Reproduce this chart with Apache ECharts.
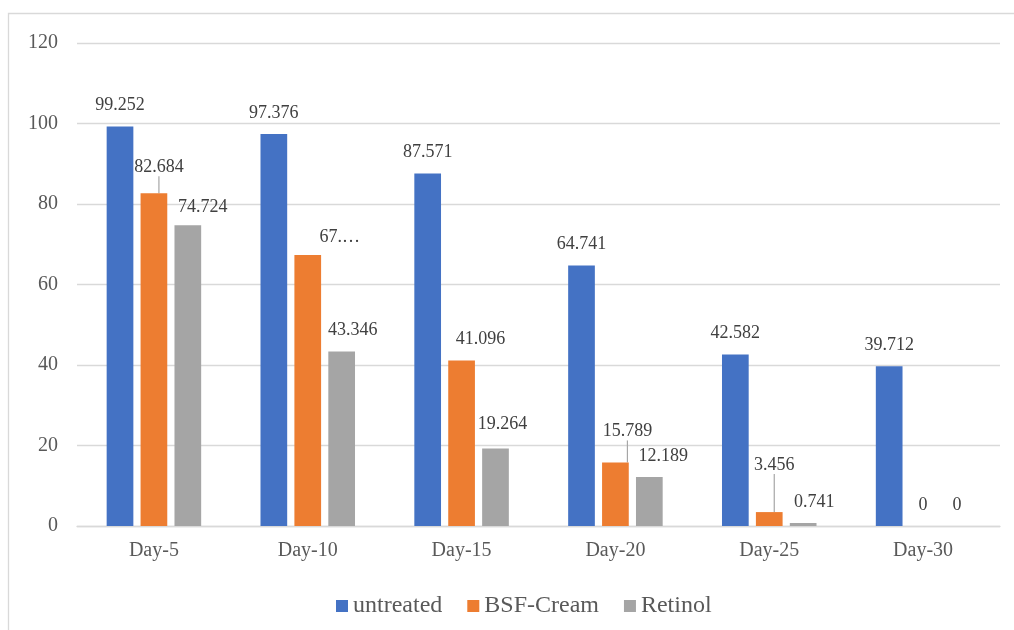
<!DOCTYPE html>
<html>
<head>
<meta charset="utf-8">
<script src="https://cdn.jsdelivr.net/npm/echarts@6/dist/echarts.min.js"></script>
<style>
html,body{margin:0;padding:0;background:#fff;}
#chart{width:1014px;height:630px;}
</style>
</head>
<body>
<div id="chart"></div>
<script>
const categories = ['Day-5', 'Day-10', 'Day-15', 'Day-20', 'Day-25', 'Day-30'];
const seriesNames = ['untreated', 'BSF-Cream', 'Retinol'];
const untreated = [99.252, 97.376, 87.571, 64.741, 42.582, 39.712];
const bsfCream = [82.684, 67.3, 41.096, 15.789, 3.456, 0];
const retinol = [74.724, 43.346, 19.264, 12.189, 0.741, 0];
const bsfLabelText = ['82.684', '67.…', '41.096', '15.789', '3.456', '0'];
const yMin = 0, yMax = 120, yStep = 20;

// label placement tweaks (layout only)
const labelShift = [
  [[0,0],[0,0],[0,0],[0,0],[0,0],[0,0]],
  [[5,-5],[32,3],[19,0],[12,-10],[5,-26],[0,0]],
  [[15,3],[11,0],[7,-3],[14,0],[11,0],[0,0]]
];
const leader = [
  [0,0,0,0,0,0],
  [1,0,0,1,1,0],
  [0,0,0,0,0,0]
];
const colors = ['#4472C4', '#ED7D31', '#A5A5A5'];
const serif = '"Liberation Serif", "Times New Roman", serif';

function labelLayout(p) {
  const off = labelShift[p.seriesIndex][p.dataIndex];
  const bx = p.rect.x + p.rect.width / 2;
  const cx = bx + off[0];
  const cy = p.rect.y - 21 + off[1];
  const res = { x: cx, y: cy, align: 'center', verticalAlign: 'middle' };
  if (leader[p.seriesIndex][p.dataIndex]) {
    res.labelLinePoints = [[bx, p.rect.y], [cx, cy + 13]];
  }
  return res;
}

function makeSeries(idx, values, fmt) {
  return {
    name: seriesNames[idx],
    type: 'bar',
    barWidth: 26.7,
    barGap: '27%',
    itemStyle: { color: colors[idx] },
    data: values.map((v, i) => ({
      value: v,
      labelLine: { show: !!leader[idx][i], length2: 0, lineStyle: { color: '#a6a6a6', width: 1.2 } }
    })),
    label: {
      show: true,
      position: 'top',
      fontFamily: serif,
      fontSize: 18,
      color: '#404040',
      formatter: fmt
    },
    labelLayout: labelLayout
  };
}

const option = {
  animation: false,
  backgroundColor: '#fff',
  graphic: [{
    type: 'rect',
    shape: { x: 8.5, y: 13.5, width: 1100, height: 700 },
    style: { fill: null, stroke: '#d9d9d9', lineWidth: 1.3 },
    silent: true,
    z: -1
  }],
  grid: { left: 77, right: 14, top: 43, bottom: 104, containLabel: false },
  legend: {
    left: 331,
    top: 589,
    itemWidth: 12,
    itemHeight: 12,
    itemGap: 25,
    icon: 'rect',
    textStyle: { fontFamily: serif, fontSize: 24, color: '#595959' },
    data: seriesNames
  },
  xAxis: {
    type: 'category',
    data: categories,
    axisTick: { show: false },
    axisLine: { lineStyle: { color: '#d9d9d9', width: 1.3 } },
    axisLabel: { fontFamily: serif, fontSize: 20, color: '#595959', margin: 15 }
  },
  yAxis: {
    type: 'value',
    min: yMin,
    max: yMax,
    interval: yStep,
    axisLine: { show: false },
    axisTick: { show: false },
    splitLine: { lineStyle: { color: '#d9d9d9', width: 1.3 } },
    axisLabel: { fontFamily: serif, fontSize: 20, color: '#595959', margin: 19 }
  },
  series: [
    makeSeries(0, untreated, p => String(p.value)),
    makeSeries(1, bsfCream, p => bsfLabelText[p.dataIndex]),
    makeSeries(2, retinol, p => String(p.value))
  ]
};

const chart = echarts.init(document.getElementById('chart'));
chart.setOption(option);
// second pass so that the guide lines exist and take the given points
chart.setOption(option);
</script>
</body>
</html>
